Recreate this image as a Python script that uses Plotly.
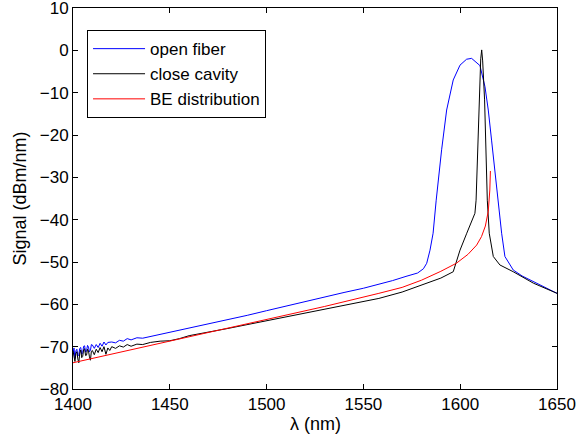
import plotly.graph_objects as go

# open fiber (blue)
wl_open = [1400, 1400.5, 1401, 1401.5, 1402, 1402.5, 1403, 1403.5, 1404, 1404.5, 1405, 1405.5,
           1406, 1406.5, 1407, 1407.5, 1408, 1408.5, 1409, 1409.5, 1410, 1411, 1412, 1413,
           1414, 1415, 1416, 1417, 1418, 1420, 1422, 1424, 1426, 1428, 1430, 1433, 1436, 1440,
           1445, 1450, 1455, 1460, 1470, 1480, 1490, 1500, 1510, 1520, 1530, 1540, 1550, 1558,
           1565, 1572, 1578, 1581, 1582.7, 1584.4, 1586, 1587.6, 1590.4, 1593, 1596.4, 1599.9,
           1603.3, 1605.9, 1608.5, 1610.2, 1612.8, 1614.5, 1616.2, 1617.9, 1619.5, 1621.4,
           1623.1, 1627.4, 1632, 1637.8, 1644, 1650]
sig_open = [-71.5, -70.3, -72.8, -71.0, -70.6, -72.2, -71.9, -70.4, -70.2, -71.8, -71.4, -69.9,
            -69.8, -71.3, -71.0, -69.7, -70.1, -71.2, -70.9, -69.5, -69.6, -70.4,
            -69.5, -70.2, -69.2, -69.9, -68.9, -69.6, -69.0, -68.9, -69.1, -68.5, -68.7, -68.1,
            -68.4, -67.9, -68.0, -67.6, -67.2, -66.7, -66.2, -65.7, -64.7, -63.6, -62.6, -61.5,
            -60.4, -59.3, -58.2, -57.2, -56.2, -55.3, -54.4, -53.4, -52.6, -51.6, -50.3, -47.2,
            -43.2, -35.4, -23.5, -14.1, -7.0, -3.5, -2.1, -1.9, -2.8, -3.6, -8.6, -14.1, -21.2,
            -28.3, -35.4, -43.2, -48.7, -51.9, -53.3, -54.6, -56.0, -57.4]

# close cavity (black)
wl_close = [1400, 1400.5, 1401, 1401.5, 1402, 1402.5, 1403, 1403.5, 1404, 1404.5, 1405, 1405.5,
            1406, 1406.5, 1407, 1407.5, 1408, 1408.5, 1409, 1409.5, 1410, 1411, 1412, 1413,
            1414, 1415, 1416, 1417, 1418, 1419, 1420, 1422, 1424, 1426, 1428, 1430, 1433, 1436,
            1440, 1445, 1450, 1455, 1460, 1480, 1500, 1520, 1540, 1558, 1570, 1579, 1590, 1596.4,
            1599.9, 1603.4, 1606, 1607.6, 1608.2, 1609.7, 1610.6, 1611.1, 1611.6, 1612.6, 1614,
            1615, 1617.1, 1620.5, 1627.4, 1637.8, 1644, 1650]
sig_close = [-71.0, -72.4, -73.5, -71.6, -71.2, -72.9, -73.8, -71.5, -70.8, -72.6, -72.3, -70.7,
             -70.5, -72.1, -72.0, -70.6, -71.0, -72.4, -73.2, -71.1, -70.9, -71.9,
             -70.6, -71.4, -70.2, -71.2, -70.0, -71.8, -70.3, -70.9, -70.0, -70.4, -69.8, -70.1,
             -69.5, -69.9, -69.4, -69.5, -69.0, -68.7, -68.6, -68.1, -67.4, -65.7, -63.9, -62.1,
             -60.3, -58.6, -57.1, -55.6, -53.8, -52.3, -47.2, -43.2, -40.3, -38.5, -35.4, -11.7,
             -2.0, 0.1, -2.5, -11.7, -35.4, -43.2, -48.7, -50.7, -52.3, -55.0, -56.2, -57.4]

# BE distribution (red)
wl_be = [1400, 1430, 1460, 1500, 1530, 1558, 1570, 1580, 1590, 1598, 1604, 1608.5, 1611, 1613,
         1614.5, 1615.3, 1615.6]
sig_be = [-73.8, -70.7, -67.6, -63.6, -60.5, -57.4, -56.0, -54.3, -52.2, -50.3, -48.2, -46.0,
          -44.0, -41.5, -38.0, -33.0, -28.5]

xticks = [1400, 1450, 1500, 1550, 1600, 1650]
yticks = [-80, -70, -60, -50, -40, -30, -20, -10, 0, 10]

font = "Arial, Liberation Sans, sans-serif"

fig = go.Figure()
fig.add_trace(go.Scatter(x=wl_open, y=sig_open, mode="lines", name="open fiber",
                         line=dict(color="#0000ff", width=1)))
fig.add_trace(go.Scatter(x=wl_close, y=sig_close, mode="lines", name="close cavity",
                         line=dict(color="#000000", width=1)))
fig.add_trace(go.Scatter(x=wl_be, y=sig_be, mode="lines", name="BE distribution",
                         line=dict(color="#ff0000", width=1)))

axis_style = dict(showline=True, linecolor="black", linewidth=1, mirror="ticks",
                  ticks="inside", ticklen=5, tickcolor="black", showgrid=False,
                  zeroline=False, automargin=False, ticklabeloverflow="allow",
                  tickfont=dict(family=font, size=17, color="black"))

fig.update_xaxes(range=[1400, 1650], tickvals=xticks, **axis_style)
fig.update_yaxes(range=[-80, 10], tickvals=yticks, **axis_style)

# axis titles placed as annotations so margins stay fixed
fig.add_annotation(text="λ (nm)", xref="paper", yref="paper", x=0.5, y=0,
                   yshift=-35, yanchor="middle", showarrow=False,
                   font=dict(family=font, size=18, color="black"))
fig.add_annotation(text="Signal (dBm/nm)", xref="paper", yref="paper", x=0, y=0.5,
                   xshift=-54, xanchor="center", textangle=-90, showarrow=False,
                   font=dict(family=font, size=18, color="black"))

fig.update_layout(
    width=577, height=443,
    margin=dict(l=73, r=20, t=8, b=54),
    paper_bgcolor="white", plot_bgcolor="white",
    font=dict(family=font, size=17, color="black"),
    legend=dict(x=0.029, y=0.942, xanchor="left", yanchor="top",
                bgcolor="white", bordercolor="black", borderwidth=1,
                font=dict(family=font, size=17, color="black"),
                itemwidth=52, tracegroupgap=0),
)

# drop the default page margin so the figure sits at the window corner
fig.write_html("out.html", config={"displayModeBar": False},
               post_script="document.body.style.margin='0';")
